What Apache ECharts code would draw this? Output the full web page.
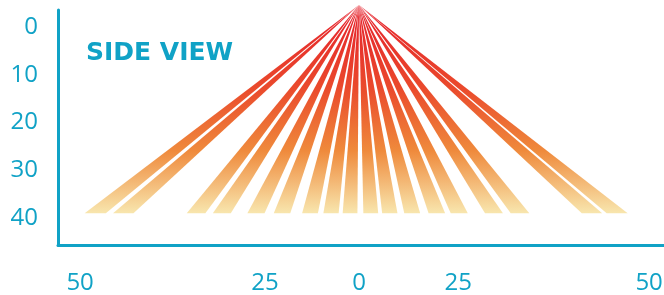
<!DOCTYPE html>
<html>
<head>
<meta charset="utf-8">
<script src="https://cdn.jsdelivr.net/npm/echarts@6/dist/echarts.min.js"></script>
<style>
  html, body { margin: 0; padding: 0; background: #fff; }
  #chart { width: 664px; height: 295px; }
</style>
</head>
<body>
<div id="chart"></div>
<script>
// tick labels
const yTicks = [0, 10, 20, 30, 40];
const xTickPos = [-49.8, -16.8, 0, 17.7, 51.8];
const xTickLabels = ['50', '25', '0', '25', '50'];

// where each beam lands at the bottom (x), plus the shared top / bottom depth
const rayBottoms = [-47.1, -42.1, -29.1, -24.5, -18.4, -13.75, -8.75, -5.0, -1.6,
  2.1, 5.5, 9.5, 13.9, 17.9, 24.1, 28.75, 41.6, 46.1];
const rayTop = -4.6;
const rayBase = 39;

const blue = '#10a2c6';

const chart = echarts.init(document.getElementById('chart'));

chart.setOption({
  animation: false,
  grid: { left: 58, right: 0, top: 10, bottom: 50, outerBoundsMode: 'none' },
  graphic: [{
    type: 'text',
    left: 86,
    top: 41,
    style: {
      text: 'SIDE VIEW',
      fill: blue,
      font: 'bold 25px "DejaVu Sans"'
    }
  }],
  xAxis: {
    type: 'value',
    min: -53.75,
    max: 54.46,
    splitLine: { show: false },
    axisTick: { show: false },
    axisLine: { show: true, onZero: false, lineStyle: { color: blue, width: 3 } },
    axisLabel: {
      customValues: xTickPos,
      margin: 26,
      color: blue,
      fontSize: 24,
      fontFamily: 'Open Sans',
      formatter: (v) => {
        const i = xTickPos.indexOf(v);
        return i >= 0 ? xTickLabels[i] : '';
      }
    }
  },
  yAxis: {
    type: 'value',
    inverse: true,
    min: -3.56,
    max: 45.65,
    splitLine: { show: false },
    axisTick: { show: false },
    axisLine: { show: true, onZero: false, lineStyle: { color: blue, width: 3 } },
    axisLabel: {
      customValues: yTicks,
      margin: 20,
      color: blue,
      fontSize: 24,
      fontFamily: 'Open Sans'
    }
  },
  series: [{
    type: 'custom',
    clip: false,
    data: rayBottoms.map((x) => [x]),
    renderItem: (params, api) => {
      const xb = api.value(0);
      const w = 2.6 + 0.025 * Math.abs(xb);
      const p0 = api.coord([0, rayTop]);
      const p1 = api.coord([xb - w / 2, rayBase]);
      const p2 = api.coord([xb + w / 2, rayBase]);
      return {
        type: 'polygon',
        shape: { points: [p0, p1, p2] },
        style: {
          fill: new echarts.graphic.LinearGradient(0, 0, 0, 1, [
            { offset: 0, color: '#e51f2b' },
            { offset: 0.4, color: '#ea4a2c' },
            { offset: 0.7, color: '#ef8a3c' },
            { offset: 1, color: '#f8e6ae' }
          ])
        }
      };
    }
  }]
});
</script>
</body>
</html>
